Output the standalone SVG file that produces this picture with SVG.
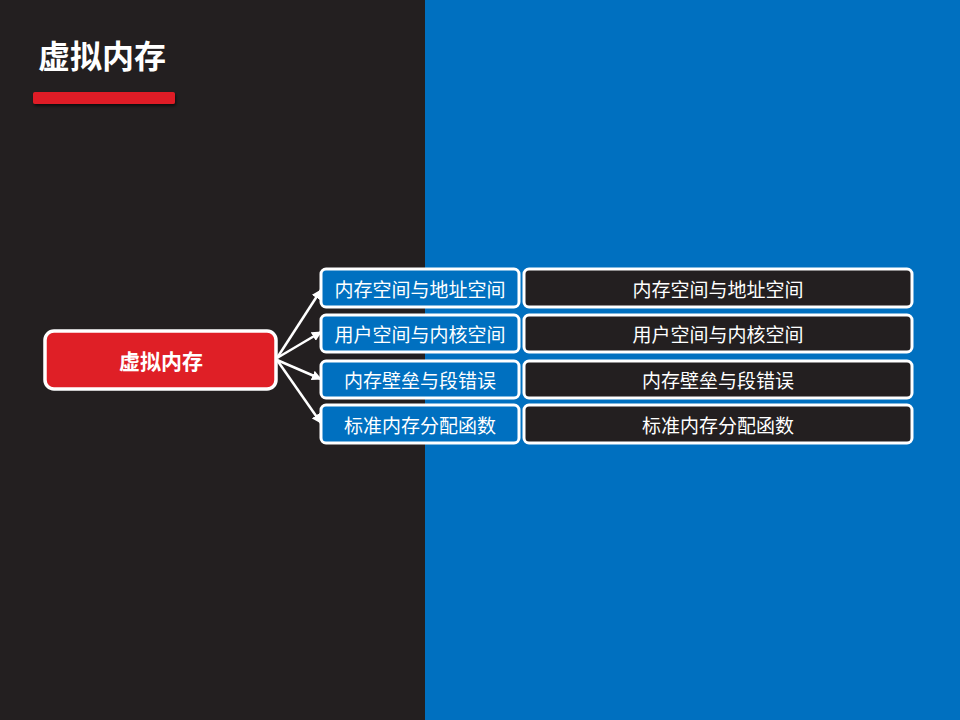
<svg xmlns="http://www.w3.org/2000/svg" width="960" height="720" viewBox="0 0 960 720">
<defs>
<style>
.t{font-family:"Noto Sans CJK SC","Liberation Sans",sans-serif;fill:#fff;text-anchor:middle;dominant-baseline:central}
.b{fill:#0070c0;stroke:#fff;stroke-width:3}
.k{fill:#231f20;stroke:#fff;stroke-width:3}
.c{stroke:#fff;stroke-width:2.5;fill:none;marker-end:url(#ah)}
</style>
<marker id="ah" viewBox="0 0 10 10" refX="9" refY="5" markerWidth="4" markerHeight="4" orient="auto" markerUnits="strokeWidth">
<path d="M0,0 L10,5 L0,10 z" fill="#fff"/>
</marker>
<filter id="sh" x="-10%" y="-50%" width="120%" height="250%">
<feDropShadow dx="1" dy="2" stdDeviation="1.5" flood-color="#000" flood-opacity="0.6"/>
</filter>
</defs>
<rect x="0" y="0" width="425" height="720" fill="#231f20"/>
<rect x="425" y="0" width="535" height="720" fill="#0070c0"/>
<g id="title">
<text x="38" y="54" class="t" style="text-anchor:start;font-size:32px;font-weight:bold">虚拟内存</text>
<rect x="33" y="92" width="142" height="12" rx="2" fill="#df1f26" filter="url(#sh)"/>
</g>
<g id="connectors">
<line class="c" x1="277" y1="358" x2="321" y2="290"/>
<line class="c" x1="277" y1="358" x2="321" y2="332"/>
<line class="c" x1="277" y1="360" x2="321" y2="379"/>
<line class="c" x1="277" y1="360" x2="321" y2="423"/>
</g>
<g id="root">
<rect x="45" y="331" width="231" height="58" rx="9" fill="#df1f26" stroke="#fff" stroke-width="3.5"/>
<text x="161" y="360" class="t" style="font-size:21px;font-weight:bold">虚拟内存</text>
</g>
<g id="n1">
<rect class="b" x="321" y="269" width="198" height="38" rx="5"/>
<text class="t" x="420" y="288" font-size="19">内存空间与地址空间</text>
</g>
<g id="n2">
<rect class="b" x="321" y="315" width="198" height="37" rx="5"/>
<text class="t" x="420" y="333.5" font-size="19">用户空间与内核空间</text>
</g>
<g id="n3">
<rect class="b" x="321" y="361" width="198" height="37" rx="5"/>
<text class="t" x="420" y="379.5" font-size="19">内存壁垒与段错误</text>
</g>
<g id="n4">
<rect class="b" x="321" y="405" width="198" height="38" rx="5"/>
<text class="t" x="420" y="424" font-size="19">标准内存分配函数</text>
</g>
<g id="d1">
<rect class="k" x="524" y="269" width="388" height="38" rx="5"/>
<text class="t" x="718" y="288" font-size="19">内存空间与地址空间</text>
</g>
<g id="d2">
<rect class="k" x="524" y="315" width="388" height="37" rx="5"/>
<text class="t" x="718" y="333.5" font-size="19">用户空间与内核空间</text>
</g>
<g id="d3">
<rect class="k" x="524" y="361" width="388" height="37" rx="5"/>
<text class="t" x="718" y="379.5" font-size="19">内存壁垒与段错误</text>
</g>
<g id="d4">
<rect class="k" x="524" y="405" width="388" height="38" rx="5"/>
<text class="t" x="718" y="424" font-size="19">标准内存分配函数</text>
</g>
</svg>
